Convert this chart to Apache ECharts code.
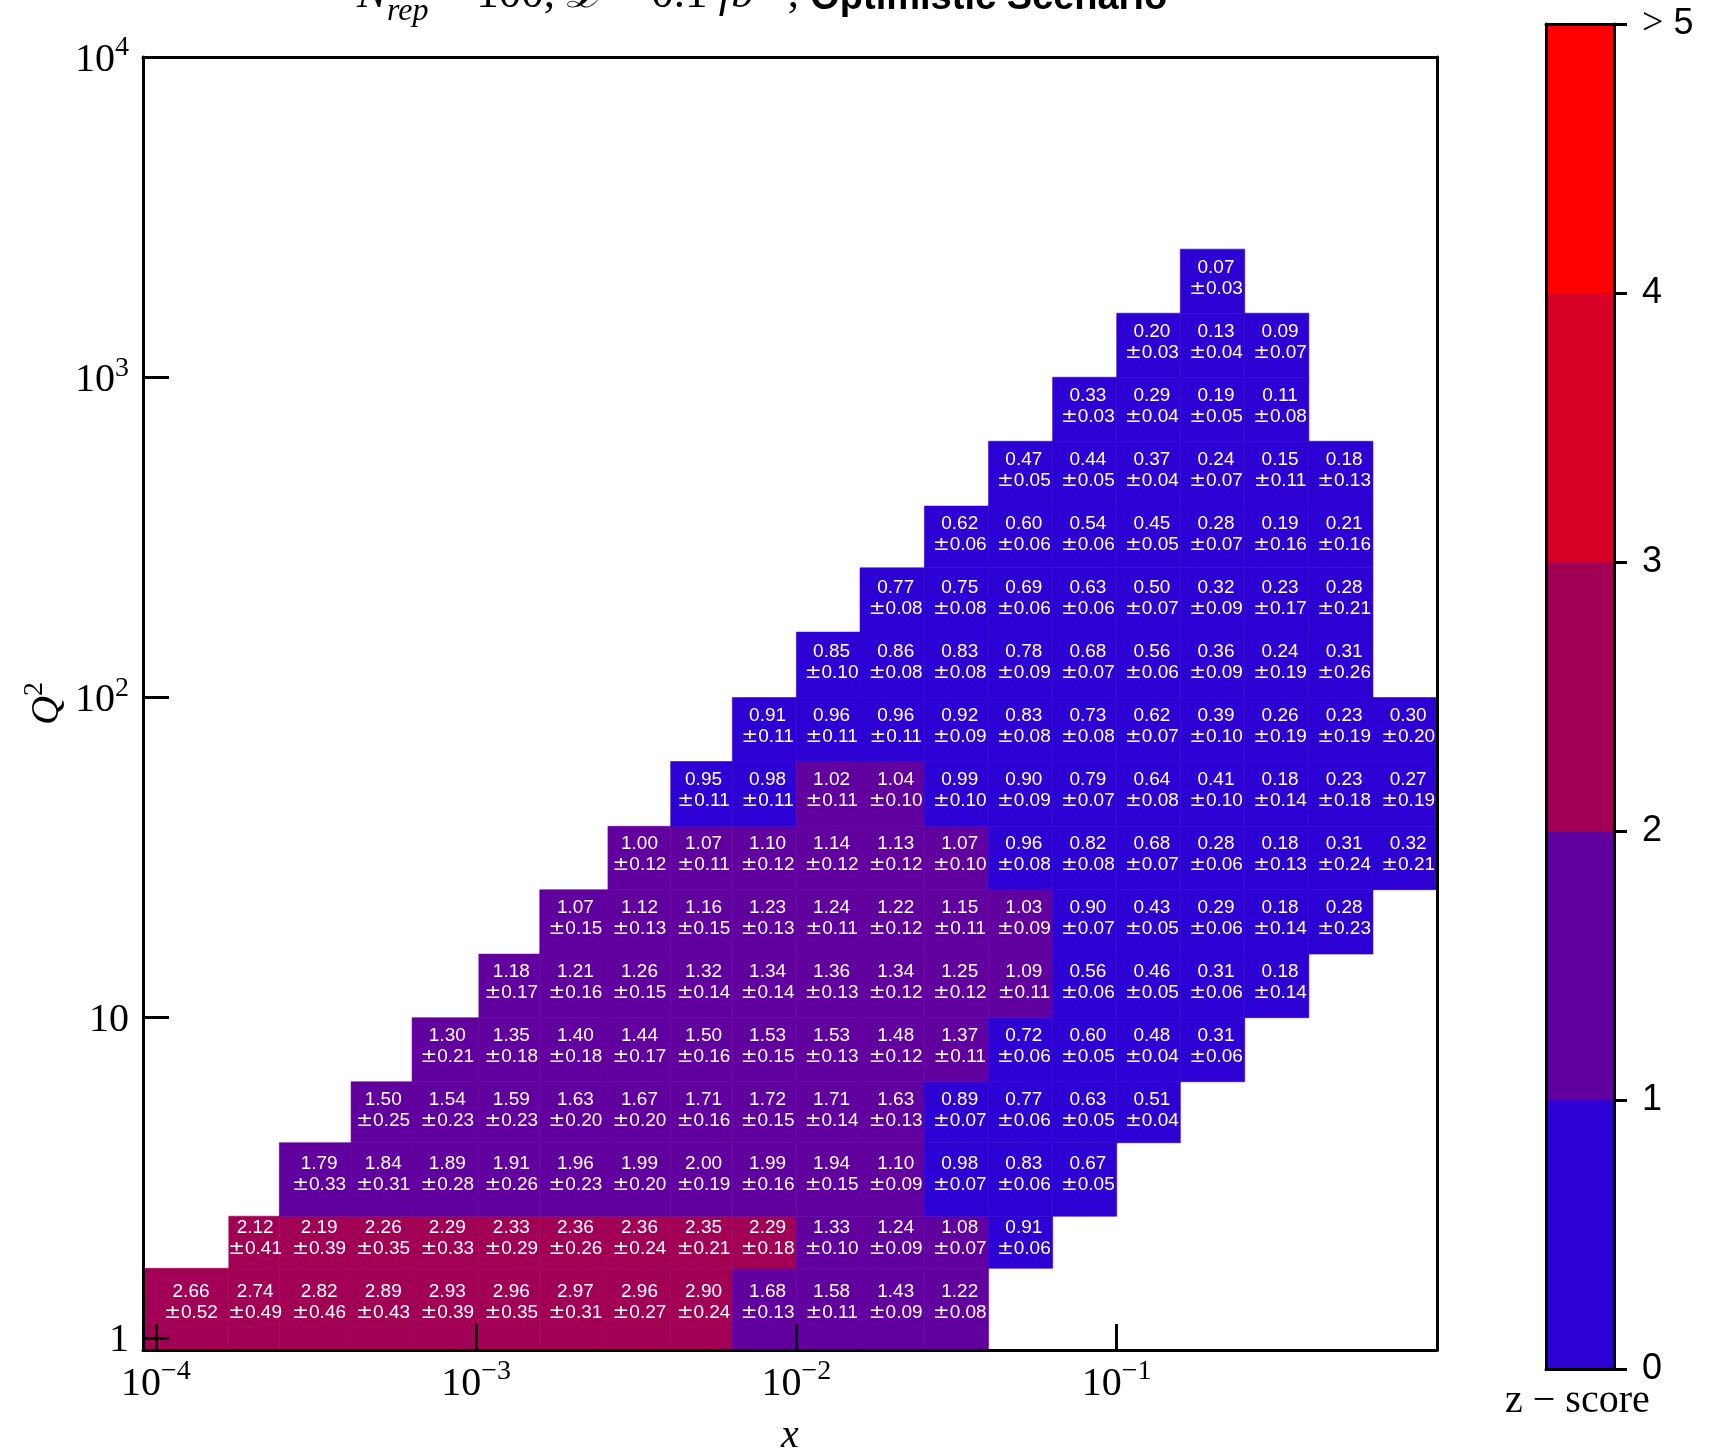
<!DOCTYPE html>
<html><head><meta charset="utf-8">
<script src="https://cdn.jsdelivr.net/npm/echarts@6/dist/echarts.min.js"></script>
<style>html,body{margin:0;padding:0;background:#fff}#c{width:1712px;height:1448px}</style>
</head><body><div id="c"></div>
<script>
// ---- axis ranges ----
const xAxisMin = 9.12e-5, xAxisMax = 1.0;
const yAxisMin = 0.917, yAxisMax = 1e4;

// ---- bin edges (x and Q^2) ----
const xEdges = [9.12e-5, 1.69e-4, 2.43e-4, 4.07e-4, 6.31e-4, 1.02e-3, 1.58e-3, 2.58e-3, 4.05e-3, 6.31e-3,
                0.01, 0.0158, 0.0251, 0.0398, 0.0631, 0.1, 0.158, 0.251, 0.398, 0.631, 1.0];
const yEdges = [0.917, 1.65, 2.40, 4.07, 6.31, 10.0, 15.8, 25.1, 39.6, 63.1,
                100, 160, 254, 396, 631, 1000, 1585, 2512];

// ---- bin centres (label anchors) ----
const xCenters = [1.288e-4, 2.042e-4, 3.236e-4, 5.129e-4, 8.128e-4, 1.288e-3, 2.042e-3, 3.236e-3, 5.129e-3, 8.128e-3,
                  0.01288, 0.02042, 0.03236, 0.05129, 0.08128, 0.1288, 0.2042, 0.3236, 0.5129, 0.8128];
const yCenters = [1.288, 2.042, 3.236, 5.129, 8.128, 12.88, 20.42, 32.36, 51.29, 81.28,
                  128.8, 204.2, 323.6, 512.9, 812.8, 1288, 2042];

// ---- first filled column of each Q^2 row ----
const rowStartCol = [0, 1, 2, 3, 4, 5, 6, 7, 8, 9, 10, 11, 12, 13, 14, 15, 16];

// ---- z-score values (bottom row first) ----
const zRows = [
  [2.66, 2.74, 2.82, 2.89, 2.93, 2.96, 2.97, 2.96, 2.90, 1.68, 1.58, 1.43, 1.22],
  [2.12, 2.19, 2.26, 2.29, 2.33, 2.36, 2.36, 2.35, 2.29, 1.33, 1.24, 1.08, 0.91],
  [1.79, 1.84, 1.89, 1.91, 1.96, 1.99, 1.996, 1.99, 1.94, 1.10, 0.98, 0.83, 0.67],
  [1.50, 1.54, 1.59, 1.63, 1.67, 1.71, 1.72, 1.71, 1.63, 0.89, 0.77, 0.63, 0.51],
  [1.30, 1.35, 1.40, 1.44, 1.50, 1.53, 1.53, 1.48, 1.37, 0.72, 0.60, 0.48, 0.31],
  [1.18, 1.21, 1.26, 1.32, 1.34, 1.36, 1.34, 1.25, 1.09, 0.56, 0.46, 0.31, 0.18],
  [1.07, 1.12, 1.16, 1.23, 1.24, 1.22, 1.15, 1.03, 0.90, 0.43, 0.29, 0.18, 0.28],
  [1.004, 1.07, 1.10, 1.14, 1.13, 1.07, 0.96, 0.82, 0.68, 0.28, 0.18, 0.31, 0.32],
  [0.95, 0.98, 1.02, 1.04, 0.99, 0.90, 0.79, 0.64, 0.41, 0.18, 0.23, 0.27],
  [0.91, 0.96, 0.96, 0.92, 0.83, 0.73, 0.62, 0.39, 0.26, 0.23, 0.30],
  [0.85, 0.86, 0.83, 0.78, 0.68, 0.56, 0.36, 0.24, 0.31],
  [0.77, 0.75, 0.69, 0.63, 0.50, 0.32, 0.23, 0.28],
  [0.62, 0.60, 0.54, 0.45, 0.28, 0.19, 0.21],
  [0.47, 0.44, 0.37, 0.24, 0.15, 0.18],
  [0.33, 0.29, 0.19, 0.11],
  [0.20, 0.13, 0.09],
  [0.07]
];
// ---- uncertainties ----
const errRows = [
  [0.52, 0.49, 0.46, 0.43, 0.39, 0.35, 0.31, 0.27, 0.24, 0.13, 0.11, 0.09, 0.08],
  [0.41, 0.39, 0.35, 0.33, 0.29, 0.26, 0.24, 0.21, 0.18, 0.10, 0.09, 0.07, 0.06],
  [0.33, 0.31, 0.28, 0.26, 0.23, 0.20, 0.19, 0.16, 0.15, 0.09, 0.07, 0.06, 0.05],
  [0.25, 0.23, 0.23, 0.20, 0.20, 0.16, 0.15, 0.14, 0.13, 0.07, 0.06, 0.05, 0.04],
  [0.21, 0.18, 0.18, 0.17, 0.16, 0.15, 0.13, 0.12, 0.11, 0.06, 0.05, 0.04, 0.06],
  [0.17, 0.16, 0.15, 0.14, 0.14, 0.13, 0.12, 0.12, 0.11, 0.06, 0.05, 0.06, 0.14],
  [0.15, 0.13, 0.15, 0.13, 0.11, 0.12, 0.11, 0.09, 0.07, 0.05, 0.06, 0.14, 0.23],
  [0.12, 0.11, 0.12, 0.12, 0.12, 0.10, 0.08, 0.08, 0.07, 0.06, 0.13, 0.24, 0.21],
  [0.11, 0.11, 0.11, 0.10, 0.10, 0.09, 0.07, 0.08, 0.10, 0.14, 0.18, 0.19],
  [0.11, 0.11, 0.11, 0.09, 0.08, 0.08, 0.07, 0.10, 0.19, 0.19, 0.20],
  [0.10, 0.08, 0.08, 0.09, 0.07, 0.06, 0.09, 0.19, 0.26],
  [0.08, 0.08, 0.06, 0.06, 0.07, 0.09, 0.17, 0.21],
  [0.06, 0.06, 0.06, 0.05, 0.07, 0.16, 0.16],
  [0.05, 0.05, 0.04, 0.07, 0.11, 0.13],
  [0.03, 0.04, 0.05, 0.08],
  [0.03, 0.04, 0.07],
  [0.03]
];

// ---- colour bins ----
const colorBins = [0, 1, 2, 3, 4, 5];
const binColors = ['#2D00D3', '#62009F', '#A10055', '#D70027', '#FF0000'];
const colorbarLabels = ['0', '1', '2', '3', '4', '> 5'];

// ---- build cell table ----
const cells = [];
zRows.forEach((row, j) => {
  row.forEach((z, k) => {
    const i = rowStartCol[j] + k;
    cells.push([xEdges[i], xEdges[i + 1], yEdges[j], yEdges[j + 1], xCenters[i], yCenters[j], z, errRows[j][k]]);
  });
});
const pieces = binColors.map((c, b) => {
  const p = { color: c };
  if (b > 0) p.gte = colorBins[b];
  if (b < binColors.length - 1) p.lt = colorBins[b + 1];
  return p;
});
const cbData = binColors.map((c, b) => [0, 1, colorBins[b], colorBins[b + 1], b]);

const SERIF = 'Liberation Serif';
const SANS = 'Liberation Sans';
function expOf(v) { const e = Math.log10(v); const r = Math.round(e); return Math.abs(e - r) < 1e-6 ? r : null; }
const tickRich = {
  b: { fontFamily: SERIF, fontSize: 40, color: '#000', lineHeight: 46, verticalAlign: 'bottom' },
  s: { fontFamily: SERIF, fontSize: 28, color: '#000', lineHeight: 46, verticalAlign: 'top' }
};
const cellRich = {
  d: { fontFamily: SANS, fontSize: 19, fill: '#fff', lineHeight: 21 },
  p: { fontFamily: 'DejaVu Sans', fontSize: 20, fill: '#fff', lineHeight: 21 }
};

const chart = echarts.init(document.getElementById('c'), null, { renderer: 'canvas' });
chart.setOption({
  animation: false,
  backgroundColor: '#fff',
  title: [{
    text: '{n|N}{sub|rep}{t| = 100, }{n|ℒ}{t| = 0.1 }{n|fb}{sup|−1}{t|, }{b|Optimistic Scenario}',
    left: 352, top: -37,
    textStyle: {
      fontWeight: 'normal',
      rich: {
        n: { fontFamily: SERIF, fontStyle: 'italic', fontWeight: 'normal', fontSize: 45, color: '#000', verticalAlign: 'bottom', lineHeight: 50 },
        sub: { fontFamily: SERIF, fontStyle: 'italic', fontWeight: 'normal', fontSize: 32, color: '#000', verticalAlign: 'bottom', lineHeight: 50, padding: [0, 0, -10, 0] },
        t: { fontFamily: SERIF, fontWeight: 'normal', fontSize: 45, color: '#000', verticalAlign: 'bottom', lineHeight: 50 },
        sup: { fontFamily: SERIF, fontWeight: 'normal', fontSize: 32, color: '#000', verticalAlign: 'top', lineHeight: 50 },
        b: { fontFamily: SANS, fontWeight: 'bold', fontSize: 38, color: '#000', verticalAlign: 'bottom', lineHeight: 50 }
      }
    }
  }, {
    text: 'z − score', left: 1500, top: 1376,
    textStyle: { fontFamily: SERIF, fontSize: 40, fontWeight: 'normal', color: '#000' }
  }],
  grid: [
    { left: 143, top: 57, width: 1294, height: 1293, containLabel: false, outerBoundsMode: 'none' },
    { left: 1546, top: 24, width: 68, height: 1345, containLabel: false, outerBoundsMode: 'none' }
  ],
  visualMap: {
    type: 'piecewise', show: false, dimension: 6, seriesIndex: 0, pieces: pieces
  },
  xAxis: [
    {
      type: 'log', logBase: 10, gridIndex: 0, min: xAxisMin, max: xAxisMax, position: 'bottom', z: 10,
      axisLine: { show: true, onZero: false, lineStyle: { color: '#000', width: 3 } },
      axisTick: { show: true, inside: true, length: 26, lineStyle: { color: '#000', width: 3 } },
      minorTick: { show: false }, splitLine: { show: false },
      axisLabel: {
        margin: 8, color: '#000', rich: tickRich, showMinLabel: true, showMaxLabel: true,
        formatter: v => { const e = expOf(v); if (e === null || e >= 0) return ''; return '{b|10}{s|−' + (-e) + '}'; }
      },
      name: '{i|x}', nameLocation: 'middle', nameGap: 66,
      nameTextStyle: { rich: { i: { fontFamily: SERIF, fontStyle: 'italic', fontSize: 40, color: '#000' } } }
    },
    {
      type: 'log', logBase: 10, gridIndex: 0, min: xAxisMin, max: xAxisMax, position: 'top', z: 10,
      axisLine: { show: true, onZero: false, lineStyle: { color: '#000', width: 3 } },
      axisTick: { show: false }, axisLabel: { show: false }, splitLine: { show: false }
    },
    {
      type: 'value', gridIndex: 1, min: 0, max: 1, position: 'bottom', z: 10,
      axisLine: { show: true, onZero: false, lineStyle: { color: '#000', width: 3 } },
      axisTick: { show: false }, axisLabel: { show: false }, splitLine: { show: false }
    },
    {
      type: 'value', gridIndex: 1, min: 0, max: 1, position: 'top', z: 10,
      axisLine: { show: true, onZero: false, lineStyle: { color: '#000', width: 3 } },
      axisTick: { show: false }, axisLabel: { show: false }, splitLine: { show: false }
    }
  ],
  yAxis: [
    {
      type: 'log', logBase: 10, gridIndex: 0, min: yAxisMin, max: yAxisMax, position: 'left', z: 10,
      axisLine: { show: true, onZero: false, lineStyle: { color: '#000', width: 3 } },
      axisTick: { show: true, inside: true, length: 26, lineStyle: { color: '#000', width: 3 } },
      minorTick: { show: false }, splitLine: { show: false },
      axisLabel: {
        margin: 14, color: '#000', rich: tickRich, showMinLabel: true, showMaxLabel: true,
        formatter: v => { const e = expOf(v); if (e === null) return ''; if (e === 0) return '{b|1}'; if (e === 1) return '{b|10}'; return '{b|10}{s|' + e + '}'; }
      },
      name: '{q|Q}{s|2}', nameLocation: 'middle', nameGap: 76, nameMoveOverlap: false,
      nameTextStyle: { rich: {
        q: { fontFamily: SERIF, fontStyle: 'italic', fontSize: 40, color: '#000', lineHeight: 46, verticalAlign: 'bottom' },
        s: { fontFamily: SERIF, fontSize: 28, color: '#000', lineHeight: 46, verticalAlign: 'top' } } }
    },
    {
      type: 'log', logBase: 10, gridIndex: 0, min: yAxisMin, max: yAxisMax, position: 'right', z: 10,
      axisLine: { show: true, onZero: false, lineStyle: { color: '#000', width: 3 } },
      axisTick: { show: false }, axisLabel: { show: false }, splitLine: { show: false }
    },
    {
      type: 'value', gridIndex: 1, min: 0, max: 5, interval: 1, position: 'right', z: 10,
      axisLine: { show: true, onZero: false, lineStyle: { color: '#000', width: 3 } },
      axisTick: { show: true, inside: false, length: 13, lineStyle: { color: '#000', width: 3 } },
      splitLine: { show: false },
      axisLabel: {
        margin: 28, color: '#000', fontFamily: SANS, fontSize: 36, showMinLabel: true, showMaxLabel: true,
        formatter: v => { const s = colorbarLabels[Math.round(v)]; return s === '> 5' ? '{m|>} 5' : s; },
        rich: { m: { fontFamily: SERIF, fontSize: 38, color: '#000' } }
      }
    },
    {
      type: 'value', gridIndex: 1, min: 0, max: 5, position: 'left', z: 10,
      axisLine: { show: true, onZero: false, lineStyle: { color: '#000', width: 3 } },
      axisTick: { show: false }, axisLabel: { show: false }, splitLine: { show: false }
    }
  ],
  series: [
    {
      type: 'custom', coordinateSystem: 'cartesian2d', xAxisIndex: 0, yAxisIndex: 0,
      encode: { x: [0, 1], y: [2, 3] },
      data: cells,
      renderItem: (params, api) => {
        const p0 = api.coord([api.value(0), api.value(2)]);
        const p1 = api.coord([api.value(1), api.value(3)]);
        const pc = api.coord([api.value(4), api.value(5)]);
        const color = api.visual('color');
        const z = api.value(6), e = api.value(7);
        return {
          type: 'group', children: [
            { type: 'rect', shape: { x: Math.min(p0[0], p1[0]), y: Math.min(p0[1], p1[1]), width: Math.abs(p1[0] - p0[0]), height: Math.abs(p1[1] - p0[1]) },
              style: { fill: color, stroke: color, lineWidth: 0.6 } },
            { type: 'text', x: pc[0], y: pc[1], z2: 5,
              style: { text: '{d|' + z.toFixed(2) + '}\n{p|±}{d|' + e.toFixed(2) + '}', rich: cellRich, fill: '#fff', fontFamily: SANS, fontSize: 19, lineHeight: 21, align: 'center', verticalAlign: 'middle' } }
          ]
        };
      }
    },
    {
      type: 'custom', coordinateSystem: 'cartesian2d', xAxisIndex: 2, yAxisIndex: 2,
      encode: { x: [0, 1], y: [2, 3] },
      data: cbData,
      renderItem: (params, api) => {
        const p0 = api.coord([api.value(0), api.value(2)]);
        const p1 = api.coord([api.value(1), api.value(3)]);
        const c = binColors[api.value(4)];
        return { type: 'rect', shape: { x: Math.min(p0[0], p1[0]), y: Math.min(p0[1], p1[1]), width: Math.abs(p1[0] - p0[0]), height: Math.abs(p1[1] - p0[1]) },
          style: { fill: c, stroke: c, lineWidth: 0.6 } };
      }
    }
  ]
});
</script></body></html>
